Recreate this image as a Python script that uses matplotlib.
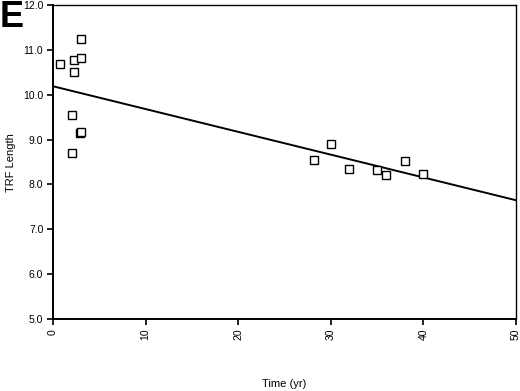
import matplotlib
matplotlib.use("Agg")
import numpy as np
import matplotlib.pyplot as plt

# data
time_yr = [0.7, 2.3, 2.3, 3.0, 3.0, 2.0, 2.9, 3.0, 2.0,
           28.2, 30.0, 32.0, 35.0, 36.0, 38.0, 40.0]
trf_length = [10.68, 10.78, 10.51, 11.25, 10.81, 9.55, 9.14, 9.17, 8.70,
              8.55, 8.90, 8.34, 8.32, 8.22, 8.52, 8.23]
fit_x = [0, 50]
fit_y = [10.19, 7.65]

x_ticks = [0, 10, 20, 30, 40, 50]
y_ticks = [5.0, 6.0, 7.0, 8.0, 9.0, 10.0, 11.0, 12.0]

plt.rcParams['font.family'] = ['Liberation Sans', 'DejaVu Sans']

fig = plt.figure(figsize=(5.2, 3.91), dpi=100)
ax = fig.add_axes([0.102, 0.184, 0.890, 0.803])

ax.plot(fit_x, fit_y, color='black', lw=1.4, zorder=2)
ax.plot(time_yr, trf_length, linestyle='none', marker='s', markersize=6,
        markerfacecolor='white', markeredgecolor='black', markeredgewidth=1.0, zorder=3)

ax.set_xlim(0, 50)
ax.set_ylim(5, 12)
ax.set_xticks(x_ticks)
ax.set_xticklabels([str(t) for t in x_ticks], rotation=90, fontsize=7.5)
ax.set_yticks(y_ticks)
ax.set_yticklabels(["%.1f" % t for t in y_ticks], fontsize=7.5)
ax.tick_params(direction='out', length=4, width=1.2, color='black', pad=3)
for s in ax.spines.values():
    s.set_linewidth(1.0)
ax.spines['left'].set_linewidth(1.4)
ax.spines['bottom'].set_linewidth(1.4)

ax.set_xlabel("Time (yr)", fontsize=8, labelpad=28)
ax.set_ylabel("TRF Length", fontsize=8, labelpad=5)

fig.text(0.0, 1.0, "E", fontsize=26, fontweight='bold', ha='left', va='top')

plt.savefig("out.png", dpi=100)
